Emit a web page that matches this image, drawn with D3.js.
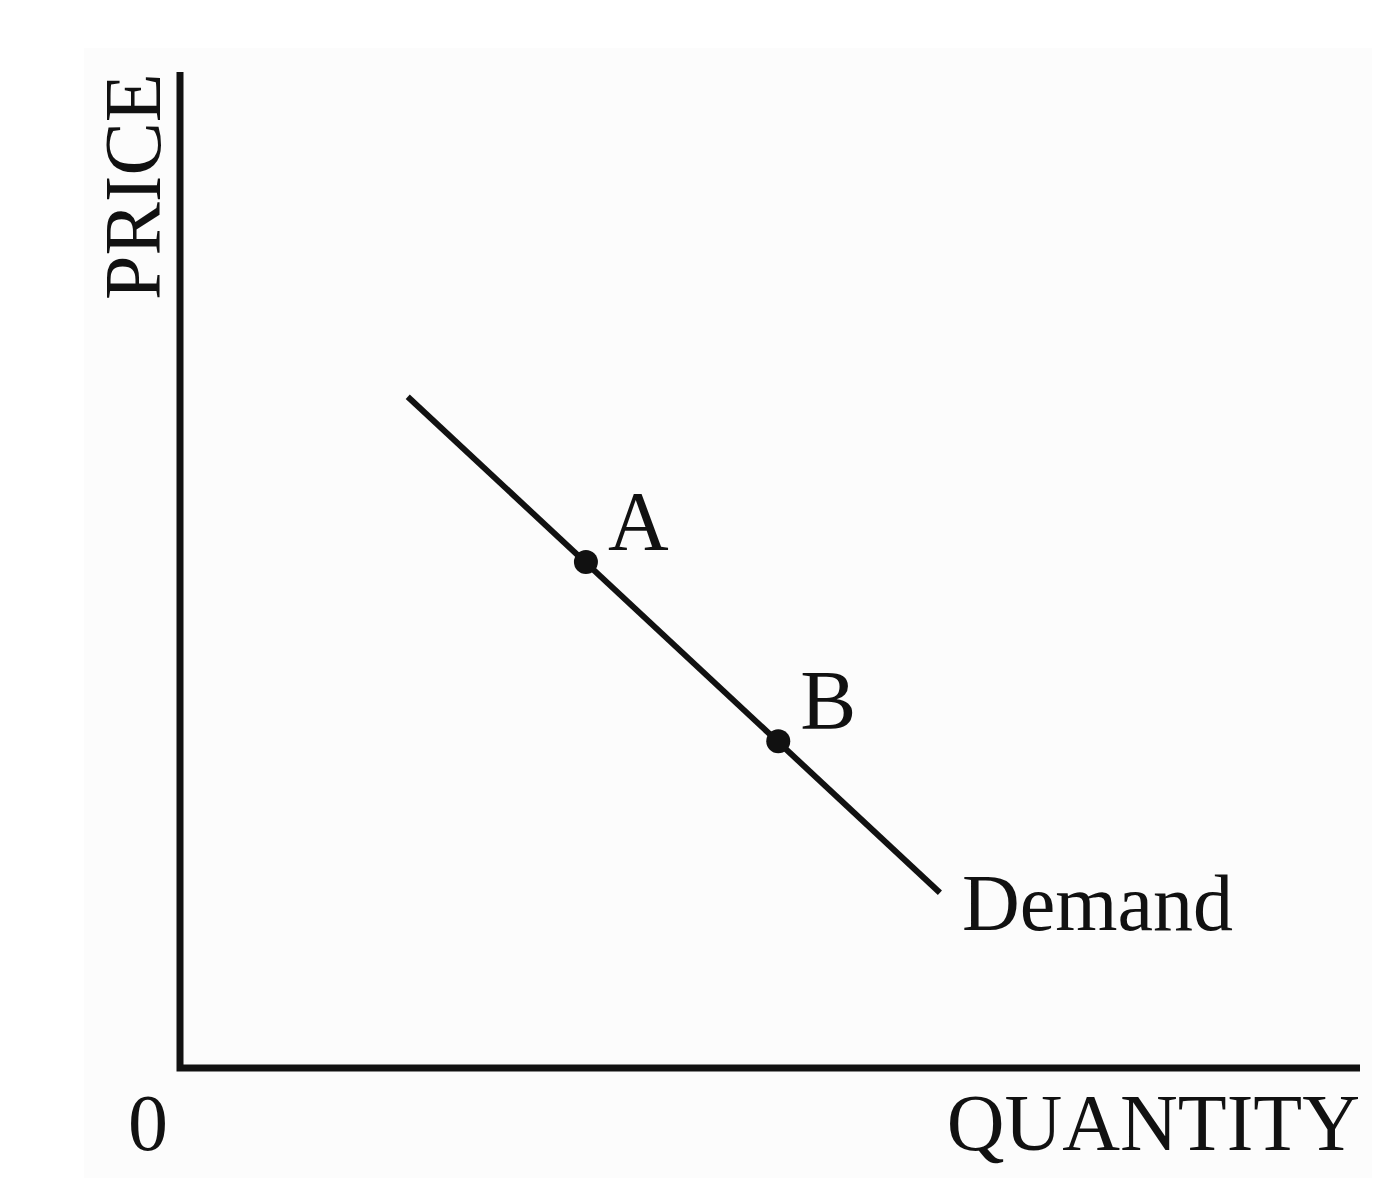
<!DOCTYPE html>
<html>
<head>
<meta charset="utf-8">
<script src="https://cdn.jsdelivr.net/npm/d3@7"></script>
<style>
  body { margin: 0; background: #fff; }
  text { font-family: "Liberation Serif", "DejaVu Serif", serif; fill: #111; }
</style>
</head>
<body>
<svg id="chart" width="1391" height="1200"></svg>
<script>
// demand curve end points (quantity, price) on a 0-100 scale
const demandLine = [
  { q: 19.3, p: 67.4 },
  { q: 64.4, p: 17.6 }
];
const points = [
  { name: "A", q: 34.4, p: 50.8 },
  { name: "B", q: 50.7, p: 32.8 }
];
const axisLabels = { x: "QUANTITY", y: "PRICE", origin: "0" };
const curveLabel = "Demand";

const svg = d3.select("#chart");

// faint paper background
svg.append("rect")
  .attr("x", 84).attr("y", 48)
  .attr("width", 1288).attr("height", 1130)
  .attr("fill", "#fcfcfc");

const x = d3.scaleLinear().domain([0, 100]).range([180, 1360]);
const y = d3.scaleLinear().domain([0, 100]).range([1068, 72]);

// axes: just the two lines, no ticks
svg.append("path")
  .attr("d", d3.line()([[x(0), y(100)], [x(0), y(0)], [x(100), y(0)]]))
  .attr("fill", "none")
  .attr("stroke", "#111")
  .attr("stroke-width", 7);

svg.append("path")
  .datum(demandLine)
  .attr("d", d3.line().x(d => x(d.q)).y(d => y(d.p)))
  .attr("fill", "none")
  .attr("stroke", "#111")
  .attr("stroke-width", 6);

svg.selectAll(".dot")
  .data(points)
  .enter()
  .append("circle")
  .attr("class", "dot")
  .attr("cx", d => x(d.q))
  .attr("cy", d => y(d.p))
  .attr("r", 12)
  .attr("fill", "#111");

svg.selectAll(".ptlabel")
  .data(points)
  .enter()
  .append("text")
  .attr("class", "ptlabel")
  .attr("x", d => x(d.q) + 22)
  .attr("y", d => y(d.p) - 12)
  .style("font-size", "84px")
  .text(d => d.name);

svg.append("text")
  .attr("x", x(demandLine[1].q) + 22)
  .attr("y", y(demandLine[1].p) + 37)
  .style("font-size", "80px")
  .text(curveLabel);

svg.append("text")
  .attr("x", x(100))
  .attr("y", 1150)
  .attr("text-anchor", "end")
  .style("font-size", "80px")
  .text(axisLabels.x);

svg.append("text")
  .attr("transform", "translate(160,300) rotate(-90)")
  .attr("text-anchor", "start")
  .style("font-size", "80px")
  .text(axisLabels.y);

svg.append("text")
  .attr("x", 148)
  .attr("y", 1150)
  .attr("text-anchor", "middle")
  .style("font-size", "80px")
  .text(axisLabels.origin);
</script>
</body>
</html>
